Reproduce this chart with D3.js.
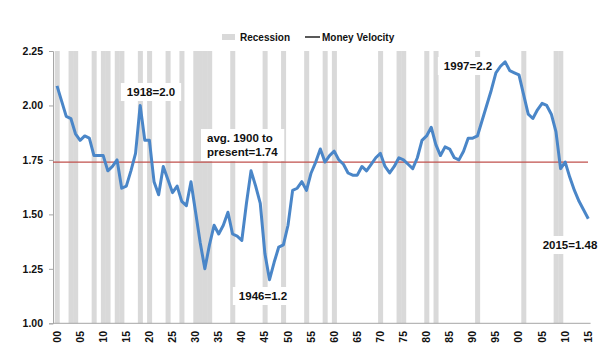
<!DOCTYPE html>
<html>
<head>
<meta charset="utf-8">
<script src="https://cdn.jsdelivr.net/npm/d3@7"></script>
<style>
  body { margin: 0; background: #fff; }
  text { font-family: "Liberation Sans", Arial, sans-serif; font-weight: bold; fill: #111; }
</style>
</head>
<body>
<svg id="chart" width="616" height="346"></svg>
<script>
// annual money velocity, 1900 - 2015
const years = d3.range(1900, 2016);
const velocity = [
  2.09, 2.02, 1.95, 1.94, 1.87, 1.84, 1.86, 1.85, 1.77, 1.77,
  1.77, 1.70, 1.72, 1.75, 1.62, 1.63, 1.70, 1.78, 2.00, 1.84,
  1.84, 1.65, 1.59, 1.72, 1.66, 1.60, 1.63, 1.56, 1.54, 1.65,
  1.51, 1.37, 1.25, 1.36, 1.45, 1.41, 1.45, 1.51, 1.41, 1.40,
  1.38, 1.55, 1.70, 1.63, 1.55, 1.32, 1.20, 1.28, 1.35, 1.36,
  1.45, 1.61, 1.62, 1.65, 1.61, 1.69, 1.74, 1.80, 1.74, 1.77,
  1.79, 1.75, 1.73, 1.69, 1.68, 1.68, 1.72, 1.70, 1.73, 1.76,
  1.78, 1.72, 1.69, 1.72, 1.76, 1.75, 1.73, 1.71, 1.76, 1.84,
  1.86, 1.90, 1.82, 1.77, 1.81, 1.80, 1.76, 1.75, 1.79, 1.85,
  1.85, 1.86, 1.93, 2.00, 2.07, 2.15, 2.18, 2.20, 2.16, 2.15,
  2.14, 2.05, 1.96, 1.94, 1.98, 2.01, 2.00, 1.96, 1.88, 1.71,
  1.74, 1.67, 1.61, 1.56, 1.52, 1.48
];
const recessionYears = [1900, 1903, 1904, 1908, 1910, 1911, 1913, 1914, 1918, 1920,
  1924, 1927, 1930, 1931, 1932, 1933, 1938, 1945, 1949, 1954, 1958, 1960,
  1970, 1974, 1975, 1980, 1982, 1991, 2001, 2008, 2009];
const average = 1.74;
const yTicks = [1.00, 1.25, 1.50, 1.75, 2.00, 2.25];
const xTickYears = d3.range(1900, 2016, 5);
const callouts = [
  { lines: ["1918=2.0"], x: 151, y: 96 },
  { lines: ["avg. 1900 to", "present=1.74"], x: 207, y: 142, anchor: "start" },
  { lines: ["1946=1.2"], x: 263, y: 300 },
  { lines: ["1997=2.2"], x: 468, y: 70 },
  { lines: ["2015=1.48"], x: 570, y: 249 }
];

const svg = d3.select("#chart");

const x = d3.scaleBand().domain(years).range([54.7, 590.6]).paddingInner(0).paddingOuter(0);
const y = d3.scaleLinear().domain([1, 2.25]).range([323.3, 51]);
const cx = d => x(d) + x.bandwidth() / 2;

// recession columns
svg.append("g").selectAll("rect")
  .data(recessionYears)
  .join("rect")
  .attr("x", d => x(d))
  .attr("width", x.bandwidth() + 0.4)
  .attr("y", y(2.25))
  .attr("height", y(1) - y(2.25))
  .attr("fill", "#d9d9d9");

// callout boxes go over the columns, under the lines
const boxLayer = svg.append("g");

// y axis
const yAxis = svg.append("g")
  .attr("transform", "translate(53,0)")
  .call(d3.axisLeft(y).tickValues(yTicks).tickFormat(d3.format(".2f")).tickSize(4).tickPadding(6));
yAxis.select(".domain").attr("stroke", "#a6a6a6");
yAxis.selectAll(".tick line").attr("stroke", "#a6a6a6");
yAxis.selectAll(".tick text").style("font-size", "10.5px").attr("fill", "#111");

// x axis
svg.append("line")
  .attr("x1", 53).attr("x2", 590.6)
  .attr("y1", y(1)).attr("y2", y(1))
  .attr("stroke", "#a6a6a6");

svg.append("g").selectAll("text")
  .data(xTickYears)
  .join("text")
  .attr("transform", d => `translate(${cx(d) + 3.5},331) rotate(-90)`)
  .attr("text-anchor", "end")
  .style("font-size", "10.5px")
  .text(d => String(d).slice(2));

// average line
svg.append("line")
  .attr("x1", 53).attr("x2", 588)
  .attr("y1", y(average)).attr("y2", y(average))
  .attr("stroke", "#c0504d")
  .attr("stroke-width", 1.3);

// velocity line
const line = d3.line().x((d, i) => cx(years[i])).y(d => y(d));
svg.append("path")
  .datum(velocity)
  .attr("d", line)
  .attr("fill", "none")
  .attr("stroke", "#4a86c8")
  .attr("stroke-width", 3)
  .attr("stroke-linejoin", "round");

// callouts
callouts.forEach(c => {
  const t = svg.append("text")
    .attr("text-anchor", c.anchor || "middle")
    .style("font-size", "11.5px");
  c.lines.forEach((l, i) => {
    t.append("tspan").attr("x", c.x).attr("y", c.y + i * 14).text(l);
  });
  const b = t.node().getBBox();
  boxLayer.append("rect")
    .attr("x", b.x - 6).attr("y", b.y - 3)
    .attr("width", b.width + 12).attr("height", b.height + 6)
    .attr("fill", "#fff");
});

// legend
const legend = svg.append("g").attr("transform", "translate(222,37)");
legend.append("rect").attr("x", 0).attr("y", -3).attr("width", 13).attr("height", 6).attr("fill", "#d9d9d9");
legend.append("text").attr("x", 18).attr("y", 4).style("font-size", "10px").text("Recession");
legend.append("line").attr("x1", 83).attr("x2", 98).attr("y1", 0).attr("y2", 0).attr("stroke", "#222").attr("stroke-width", 1.5);
legend.append("text").attr("x", 100).attr("y", 4).style("font-size", "10px").text("Money Velocity");
</script>
</body>
</html>
